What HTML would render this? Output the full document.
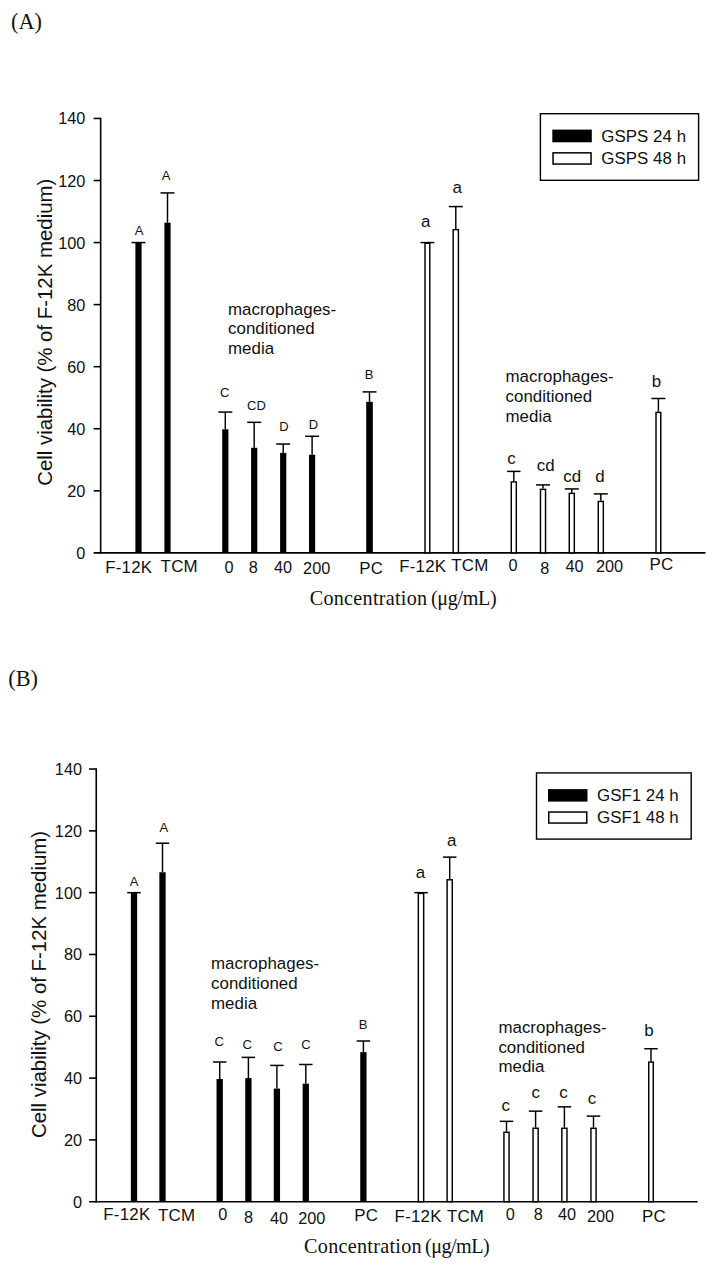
<!DOCTYPE html>
<html><head><meta charset="utf-8"><title>Figure</title>
<style>
html,body{margin:0;padding:0;background:#fff;}
svg{display:block;}
text{white-space:pre;}
</style></head>
<body>
<svg width="713" height="1265" viewBox="0 0 713 1265">
<rect x="0" y="0" width="713" height="1265" fill="#fff"/>
<g id="chartA">
<line x1="100.65" y1="117.65" x2="100.65" y2="553.65" stroke="#000" stroke-width="1.6"/>
<line x1="93.65" y1="552.85" x2="705.5" y2="552.85" stroke="#000" stroke-width="1.6"/>
<text x="85.3" y="558.85" font-size="16.3" letter-spacing="0" text-anchor="end" font-family='"Liberation Sans", sans-serif' fill="#111" >0</text>
<line x1="93.65" y1="490.79" x2="100.65" y2="490.79" stroke="#000" stroke-width="1.6"/>
<text x="85.3" y="496.79" font-size="16.3" letter-spacing="0" text-anchor="end" font-family='"Liberation Sans", sans-serif' fill="#111" >20</text>
<line x1="93.65" y1="428.74" x2="100.65" y2="428.74" stroke="#000" stroke-width="1.6"/>
<text x="85.3" y="434.74" font-size="16.3" letter-spacing="0" text-anchor="end" font-family='"Liberation Sans", sans-serif' fill="#111" >40</text>
<line x1="93.65" y1="366.68" x2="100.65" y2="366.68" stroke="#000" stroke-width="1.6"/>
<text x="85.3" y="372.68" font-size="16.3" letter-spacing="0" text-anchor="end" font-family='"Liberation Sans", sans-serif' fill="#111" >60</text>
<line x1="93.65" y1="304.62" x2="100.65" y2="304.62" stroke="#000" stroke-width="1.6"/>
<text x="85.3" y="310.62" font-size="16.3" letter-spacing="0" text-anchor="end" font-family='"Liberation Sans", sans-serif' fill="#111" >80</text>
<line x1="93.65" y1="242.56" x2="100.65" y2="242.56" stroke="#000" stroke-width="1.6"/>
<text x="85.3" y="248.56" font-size="16.3" letter-spacing="0" text-anchor="end" font-family='"Liberation Sans", sans-serif' fill="#111" >100</text>
<line x1="93.65" y1="180.51" x2="100.65" y2="180.51" stroke="#000" stroke-width="1.6"/>
<text x="85.3" y="186.51" font-size="16.3" letter-spacing="0" text-anchor="end" font-family='"Liberation Sans", sans-serif' fill="#111" >120</text>
<line x1="93.65" y1="118.45" x2="100.65" y2="118.45" stroke="#000" stroke-width="1.6"/>
<text x="85.3" y="124.45" font-size="16.3" letter-spacing="0" text-anchor="end" font-family='"Liberation Sans", sans-serif' fill="#111" >140</text>
<line x1="131.5" y1="242.56" x2="145.5" y2="242.56" stroke="#000" stroke-width="1.5"/>
<rect x="135.40" y="242.56" width="6.2" height="310.29" fill="#000"/>
<line x1="167.5" y1="192.92" x2="167.5" y2="222.71" stroke="#000" stroke-width="1.45"/>
<line x1="160.5" y1="192.92" x2="174.5" y2="192.92" stroke="#000" stroke-width="1.5"/>
<rect x="164.40" y="222.71" width="6.2" height="330.14" fill="#000"/>
<line x1="225.3" y1="412.07" x2="225.3" y2="429.29" stroke="#000" stroke-width="1.45"/>
<line x1="218.3" y1="412.07" x2="232.3" y2="412.07" stroke="#000" stroke-width="1.5"/>
<rect x="222.20" y="429.29" width="6.2" height="123.56" fill="#000"/>
<line x1="254.2" y1="422.31" x2="254.2" y2="447.76" stroke="#000" stroke-width="1.45"/>
<line x1="247.2" y1="422.31" x2="261.2" y2="422.31" stroke="#000" stroke-width="1.5"/>
<rect x="251.10" y="447.76" width="6.2" height="105.09" fill="#000"/>
<line x1="283.2" y1="444.03" x2="283.2" y2="452.88" stroke="#000" stroke-width="1.45"/>
<line x1="276.2" y1="444.03" x2="290.2" y2="444.03" stroke="#000" stroke-width="1.5"/>
<rect x="280.10" y="452.88" width="6.2" height="99.97" fill="#000"/>
<line x1="312.1" y1="436.28" x2="312.1" y2="454.74" stroke="#000" stroke-width="1.45"/>
<line x1="305.1" y1="436.28" x2="319.1" y2="436.28" stroke="#000" stroke-width="1.5"/>
<rect x="309.00" y="454.74" width="6.2" height="98.11" fill="#000"/>
<line x1="369.5" y1="391.90" x2="369.5" y2="401.83" stroke="#000" stroke-width="1.45"/>
<line x1="362.5" y1="391.90" x2="376.5" y2="391.90" stroke="#000" stroke-width="1.5"/>
<rect x="366.20" y="401.83" width="6.6" height="151.02" fill="#000"/>
<line x1="420.45" y1="242.56" x2="434.34999999999997" y2="242.56" stroke="#000" stroke-width="1.5"/>
<rect x="425.02" y="243.29" width="4.75" height="309.56" fill="#fff" stroke="#000" stroke-width="1.45"/>
<line x1="455.8" y1="206.57" x2="455.8" y2="228.91" stroke="#000" stroke-width="1.45"/>
<line x1="448.8" y1="206.57" x2="462.8" y2="206.57" stroke="#000" stroke-width="1.5"/>
<rect x="453.18" y="229.64" width="5.25" height="323.21" fill="#fff" stroke="#000" stroke-width="1.45"/>
<line x1="513.8" y1="471.40" x2="513.8" y2="481.17" stroke="#000" stroke-width="1.45"/>
<line x1="507.09999999999997" y1="471.40" x2="520.5" y2="471.40" stroke="#000" stroke-width="1.5"/>
<rect x="511.27" y="481.90" width="5.05" height="70.95" fill="#fff" stroke="#000" stroke-width="1.45"/>
<line x1="543.0" y1="484.90" x2="543.0" y2="488.62" stroke="#000" stroke-width="1.45"/>
<line x1="536.0" y1="484.90" x2="550.0" y2="484.90" stroke="#000" stroke-width="1.5"/>
<rect x="540.48" y="489.35" width="5.05" height="63.50" fill="#fff" stroke="#000" stroke-width="1.45"/>
<line x1="571.8" y1="488.93" x2="571.8" y2="492.65" stroke="#000" stroke-width="1.45"/>
<line x1="564.8" y1="488.93" x2="578.8" y2="488.93" stroke="#000" stroke-width="1.5"/>
<rect x="569.27" y="493.38" width="5.05" height="59.47" fill="#fff" stroke="#000" stroke-width="1.45"/>
<line x1="600.8" y1="493.90" x2="600.8" y2="500.72" stroke="#000" stroke-width="1.45"/>
<line x1="593.8" y1="493.90" x2="607.8" y2="493.90" stroke="#000" stroke-width="1.5"/>
<rect x="598.27" y="501.45" width="5.05" height="51.40" fill="#fff" stroke="#000" stroke-width="1.45"/>
<line x1="658.4" y1="398.48" x2="658.4" y2="411.67" stroke="#000" stroke-width="1.45"/>
<line x1="651.4" y1="398.48" x2="665.4" y2="398.48" stroke="#000" stroke-width="1.5"/>
<rect x="656.02" y="412.40" width="4.75" height="140.46" fill="#fff" stroke="#000" stroke-width="1.45"/>
<text x="105.2" y="572.8" font-size="16.9" letter-spacing="0.22" text-anchor="start" font-family='"Liberation Sans", sans-serif' fill="#111" >F-12K</text>
<text x="160.6" y="571.9" font-size="16.9" letter-spacing="0.22" text-anchor="start" font-family='"Liberation Sans", sans-serif' fill="#111" >TCM</text>
<text x="229" y="573.1" font-size="16.3" letter-spacing="0" text-anchor="middle" font-family='"Liberation Sans", sans-serif' fill="#111" >0</text>
<text x="253.4" y="573.1" font-size="16.3" letter-spacing="0" text-anchor="middle" font-family='"Liberation Sans", sans-serif' fill="#111" >8</text>
<text x="283" y="573.3" font-size="16.3" letter-spacing="0" text-anchor="middle" font-family='"Liberation Sans", sans-serif' fill="#111" >40</text>
<text x="316.7" y="574.3" font-size="16.3" letter-spacing="0" text-anchor="middle" font-family='"Liberation Sans", sans-serif' fill="#111" >200</text>
<text x="371.3" y="574.2" font-size="16.9" letter-spacing="0.22" text-anchor="middle" font-family='"Liberation Sans", sans-serif' fill="#111" >PC</text>
<text x="399.2" y="572.4" font-size="16.9" letter-spacing="0.22" text-anchor="start" font-family='"Liberation Sans", sans-serif' fill="#111" >F-12K</text>
<text x="451.2" y="570.7" font-size="16.9" letter-spacing="0.22" text-anchor="start" font-family='"Liberation Sans", sans-serif' fill="#111" >TCM</text>
<text x="513" y="570.5" font-size="16.3" letter-spacing="0" text-anchor="middle" font-family='"Liberation Sans", sans-serif' fill="#111" >0</text>
<text x="544.7" y="573.9" font-size="16.3" letter-spacing="0" text-anchor="middle" font-family='"Liberation Sans", sans-serif' fill="#111" >8</text>
<text x="574.6" y="572.2" font-size="16.3" letter-spacing="0" text-anchor="middle" font-family='"Liberation Sans", sans-serif' fill="#111" >40</text>
<text x="609.5" y="572.2" font-size="16.3" letter-spacing="0" text-anchor="middle" font-family='"Liberation Sans", sans-serif' fill="#111" >200</text>
<text x="661.5" y="570.4" font-size="16.9" letter-spacing="0.22" text-anchor="middle" font-family='"Liberation Sans", sans-serif' fill="#111" >PC</text>
<text x="139.1" y="235.2" font-size="13.0" letter-spacing="0" text-anchor="middle" font-family='"Liberation Sans", sans-serif' fill="#111" >A</text>
<text x="166.1" y="179.7" font-size="13.0" letter-spacing="0" text-anchor="middle" font-family='"Liberation Sans", sans-serif' fill="#111" >A</text>
<text x="224.7" y="396.5" font-size="13.0" letter-spacing="0" text-anchor="middle" font-family='"Liberation Sans", sans-serif' fill="#111" >C</text>
<text x="256.5" y="409.7" font-size="13.0" letter-spacing="0" text-anchor="middle" font-family='"Liberation Sans", sans-serif' fill="#111" >CD</text>
<text x="284" y="430.5" font-size="13.0" letter-spacing="0" text-anchor="middle" font-family='"Liberation Sans", sans-serif' fill="#111" >D</text>
<text x="313.5" y="428.5" font-size="13.0" letter-spacing="0" text-anchor="middle" font-family='"Liberation Sans", sans-serif' fill="#111" >D</text>
<text x="369.1" y="379.3" font-size="13.0" letter-spacing="0" text-anchor="middle" font-family='"Liberation Sans", sans-serif' fill="#111" >B</text>
<text x="425.7" y="226.9" font-size="16.9" letter-spacing="0.22" text-anchor="middle" font-family='"Liberation Sans", sans-serif' fill="#111" >a</text>
<text x="457.2" y="193.4" font-size="16.9" letter-spacing="0.22" text-anchor="middle" font-family='"Liberation Sans", sans-serif' fill="#111" >a</text>
<text x="511.7" y="463.7" font-size="16.9" letter-spacing="0.22" text-anchor="middle" font-family='"Liberation Sans", sans-serif' fill="#111" >c</text>
<text x="545.8" y="470.9" font-size="16.9" letter-spacing="0.22" text-anchor="middle" font-family='"Liberation Sans", sans-serif' fill="#111" >cd</text>
<text x="572.3" y="482.4" font-size="16.9" letter-spacing="0.22" text-anchor="middle" font-family='"Liberation Sans", sans-serif' fill="#111" >cd</text>
<text x="600.1" y="482.4" font-size="16.9" letter-spacing="0.22" text-anchor="middle" font-family='"Liberation Sans", sans-serif' fill="#111" >d</text>
<text x="656.5" y="386.5" font-size="16.9" letter-spacing="0.22" text-anchor="middle" font-family='"Liberation Sans", sans-serif' fill="#111" >b</text>
<text x="228" y="314.7" font-size="16.9" letter-spacing="0.02" text-anchor="start" font-family='"Liberation Sans", sans-serif' fill="#111" >macrophages-</text>
<text x="228" y="334.3" font-size="16.9" letter-spacing="0.02" text-anchor="start" font-family='"Liberation Sans", sans-serif' fill="#111" >conditioned</text>
<text x="228" y="353.9" font-size="16.9" letter-spacing="0.02" text-anchor="start" font-family='"Liberation Sans", sans-serif' fill="#111" >media</text>
<text x="505.5" y="381.9" font-size="16.9" letter-spacing="0.02" text-anchor="start" font-family='"Liberation Sans", sans-serif' fill="#111" >macrophages-</text>
<text x="505.5" y="401.8" font-size="16.9" letter-spacing="0.02" text-anchor="start" font-family='"Liberation Sans", sans-serif' fill="#111" >conditioned</text>
<text x="505.5" y="421.6" font-size="16.9" letter-spacing="0.02" text-anchor="start" font-family='"Liberation Sans", sans-serif' fill="#111" >media</text>
<rect x="540.4" y="113.7" width="158.2" height="66.6" fill="#fff" stroke="#000" stroke-width="1.4"/>
<rect x="552.3" y="129.6" width="39.5" height="12.7" fill="#000"/>
<rect x="553.05" y="152.85" width="38.0" height="11.2" fill="#fff" stroke="#000" stroke-width="1.5"/>
<text x="601.2" y="141.8" font-size="16.9" letter-spacing="0.06" text-anchor="start" font-family='"Liberation Sans", sans-serif' fill="#111" >GSPS 24 h</text>
<text x="601.2" y="164.2" font-size="16.9" letter-spacing="0.06" text-anchor="start" font-family='"Liberation Sans", sans-serif' fill="#111" >GSPS 48 h</text>
<text transform="translate(51.8,485.8) rotate(-90)" font-size="20.4" font-family='"Liberation Sans", sans-serif' fill="#111" text-anchor="start">Cell viability (% of F-12K medium)</text>
<text x="309.7" y="604.7" font-size="20.15" letter-spacing="0.28" text-anchor="start" font-family='"Liberation Serif", serif' fill="#111" >Concentration</text>
<text x="430.9" y="604.7" font-size="20.15" letter-spacing="-0.35" text-anchor="start" font-family='"Liberation Serif", serif' fill="#111" >(&#956;g/mL)</text>
<text x="11.0" y="29.3" font-size="22.3" letter-spacing="0" text-anchor="start" font-family='"Liberation Serif", serif' fill="#111" >(A)</text>
</g>
<g id="chartB">
<line x1="96.25" y1="768.25" x2="96.25" y2="1202.5" stroke="#000" stroke-width="1.6"/>
<line x1="89.05" y1="1201.7" x2="697.7" y2="1201.7" stroke="#000" stroke-width="1.6"/>
<text x="82" y="1207.70" font-size="16.3" letter-spacing="0" text-anchor="end" font-family='"Liberation Sans", sans-serif' fill="#111" >0</text>
<line x1="89.05" y1="1139.89" x2="96.25" y2="1139.89" stroke="#000" stroke-width="1.6"/>
<text x="82" y="1145.89" font-size="16.3" letter-spacing="0" text-anchor="end" font-family='"Liberation Sans", sans-serif' fill="#111" >20</text>
<line x1="89.05" y1="1078.09" x2="96.25" y2="1078.09" stroke="#000" stroke-width="1.6"/>
<text x="82" y="1084.09" font-size="16.3" letter-spacing="0" text-anchor="end" font-family='"Liberation Sans", sans-serif' fill="#111" >40</text>
<line x1="89.05" y1="1016.28" x2="96.25" y2="1016.28" stroke="#000" stroke-width="1.6"/>
<text x="82" y="1022.28" font-size="16.3" letter-spacing="0" text-anchor="end" font-family='"Liberation Sans", sans-serif' fill="#111" >60</text>
<line x1="89.05" y1="954.47" x2="96.25" y2="954.47" stroke="#000" stroke-width="1.6"/>
<text x="82" y="960.47" font-size="16.3" letter-spacing="0" text-anchor="end" font-family='"Liberation Sans", sans-serif' fill="#111" >80</text>
<line x1="89.05" y1="892.66" x2="96.25" y2="892.66" stroke="#000" stroke-width="1.6"/>
<text x="82" y="898.66" font-size="16.3" letter-spacing="0" text-anchor="end" font-family='"Liberation Sans", sans-serif' fill="#111" >100</text>
<line x1="89.05" y1="830.86" x2="96.25" y2="830.86" stroke="#000" stroke-width="1.6"/>
<text x="82" y="836.86" font-size="16.3" letter-spacing="0" text-anchor="end" font-family='"Liberation Sans", sans-serif' fill="#111" >120</text>
<line x1="89.05" y1="769.05" x2="96.25" y2="769.05" stroke="#000" stroke-width="1.6"/>
<text x="82" y="775.05" font-size="16.3" letter-spacing="0" text-anchor="end" font-family='"Liberation Sans", sans-serif' fill="#111" >140</text>
<line x1="127.25" y1="892.66" x2="140.75" y2="892.66" stroke="#000" stroke-width="1.5"/>
<rect x="130.85" y="892.66" width="6.3" height="309.04" fill="#000"/>
<line x1="162.5" y1="843.22" x2="162.5" y2="872.27" stroke="#000" stroke-width="1.45"/>
<line x1="155.75" y1="843.22" x2="169.25" y2="843.22" stroke="#000" stroke-width="1.5"/>
<rect x="159.35" y="872.27" width="6.3" height="329.43" fill="#000"/>
<line x1="219.7" y1="1062.02" x2="219.7" y2="1079.01" stroke="#000" stroke-width="1.45"/>
<line x1="212.95" y1="1062.02" x2="226.45" y2="1062.02" stroke="#000" stroke-width="1.5"/>
<rect x="216.55" y="1079.01" width="6.3" height="122.69" fill="#000"/>
<line x1="248.4" y1="1057.38" x2="248.4" y2="1078.09" stroke="#000" stroke-width="1.45"/>
<line x1="241.65" y1="1057.38" x2="255.15" y2="1057.38" stroke="#000" stroke-width="1.5"/>
<rect x="245.25" y="1078.09" width="6.3" height="123.61" fill="#000"/>
<line x1="276.9" y1="1065.42" x2="276.9" y2="1088.59" stroke="#000" stroke-width="1.45"/>
<line x1="270.15" y1="1065.42" x2="283.65" y2="1065.42" stroke="#000" stroke-width="1.5"/>
<rect x="273.75" y="1088.59" width="6.3" height="113.11" fill="#000"/>
<line x1="305.8" y1="1064.49" x2="305.8" y2="1083.65" stroke="#000" stroke-width="1.45"/>
<line x1="299.05" y1="1064.49" x2="312.55" y2="1064.49" stroke="#000" stroke-width="1.5"/>
<rect x="302.65" y="1083.65" width="6.3" height="118.05" fill="#000"/>
<line x1="363.4" y1="1041.00" x2="363.4" y2="1052.13" stroke="#000" stroke-width="1.45"/>
<line x1="356.65" y1="1041.00" x2="370.15" y2="1041.00" stroke="#000" stroke-width="1.5"/>
<rect x="360.25" y="1052.13" width="6.3" height="149.57" fill="#000"/>
<line x1="414.2" y1="892.66" x2="427.8" y2="892.66" stroke="#000" stroke-width="1.5"/>
<rect x="418.33" y="893.39" width="5.35" height="308.31" fill="#fff" stroke="#000" stroke-width="1.45"/>
<line x1="449.7" y1="857.13" x2="449.7" y2="879.07" stroke="#000" stroke-width="1.45"/>
<line x1="442.95" y1="857.13" x2="456.45" y2="857.13" stroke="#000" stroke-width="1.5"/>
<rect x="447.12" y="879.79" width="5.1499999999999995" height="321.91" fill="#fff" stroke="#000" stroke-width="1.45"/>
<line x1="506.5" y1="1121.35" x2="506.5" y2="1131.55" stroke="#000" stroke-width="1.45"/>
<line x1="499.75" y1="1121.35" x2="513.25" y2="1121.35" stroke="#000" stroke-width="1.5"/>
<rect x="503.93" y="1132.27" width="5.1499999999999995" height="69.43" fill="#fff" stroke="#000" stroke-width="1.45"/>
<line x1="535.6" y1="1111.15" x2="535.6" y2="1127.53" stroke="#000" stroke-width="1.45"/>
<line x1="528.85" y1="1111.15" x2="542.35" y2="1111.15" stroke="#000" stroke-width="1.5"/>
<rect x="533.03" y="1128.26" width="5.1499999999999995" height="73.44" fill="#fff" stroke="#000" stroke-width="1.45"/>
<line x1="564.4" y1="1106.83" x2="564.4" y2="1127.53" stroke="#000" stroke-width="1.45"/>
<line x1="557.65" y1="1106.83" x2="571.15" y2="1106.83" stroke="#000" stroke-width="1.5"/>
<rect x="561.83" y="1128.26" width="5.1499999999999995" height="73.44" fill="#fff" stroke="#000" stroke-width="1.45"/>
<line x1="593.5" y1="1116.10" x2="593.5" y2="1127.53" stroke="#000" stroke-width="1.45"/>
<line x1="586.75" y1="1116.10" x2="600.25" y2="1116.10" stroke="#000" stroke-width="1.5"/>
<rect x="590.93" y="1128.26" width="5.1499999999999995" height="73.44" fill="#fff" stroke="#000" stroke-width="1.45"/>
<line x1="651.0" y1="1048.73" x2="651.0" y2="1061.40" stroke="#000" stroke-width="1.45"/>
<line x1="644.25" y1="1048.73" x2="657.75" y2="1048.73" stroke="#000" stroke-width="1.5"/>
<rect x="648.73" y="1062.12" width="4.55" height="139.58" fill="#fff" stroke="#000" stroke-width="1.45"/>
<text x="103.3" y="1220" font-size="16.9" letter-spacing="0.22" text-anchor="start" font-family='"Liberation Sans", sans-serif' fill="#111" >F-12K</text>
<text x="158" y="1221" font-size="16.9" letter-spacing="0.22" text-anchor="start" font-family='"Liberation Sans", sans-serif' fill="#111" >TCM</text>
<text x="222.8" y="1220.1" font-size="16.3" letter-spacing="0" text-anchor="middle" font-family='"Liberation Sans", sans-serif' fill="#111" >0</text>
<text x="248.5" y="1223.1" font-size="16.3" letter-spacing="0" text-anchor="middle" font-family='"Liberation Sans", sans-serif' fill="#111" >8</text>
<text x="279.1" y="1223.9" font-size="16.3" letter-spacing="0" text-anchor="middle" font-family='"Liberation Sans", sans-serif' fill="#111" >40</text>
<text x="311.8" y="1223.9" font-size="16.3" letter-spacing="0" text-anchor="middle" font-family='"Liberation Sans", sans-serif' fill="#111" >200</text>
<text x="366.3" y="1221.0" font-size="16.9" letter-spacing="0.22" text-anchor="middle" font-family='"Liberation Sans", sans-serif' fill="#111" >PC</text>
<text x="394.6" y="1221.9" font-size="16.9" letter-spacing="0.22" text-anchor="start" font-family='"Liberation Sans", sans-serif' fill="#111" >F-12K</text>
<text x="446.9" y="1221.9" font-size="16.9" letter-spacing="0.22" text-anchor="start" font-family='"Liberation Sans", sans-serif' fill="#111" >TCM</text>
<text x="510.2" y="1219.8" font-size="16.3" letter-spacing="0" text-anchor="middle" font-family='"Liberation Sans", sans-serif' fill="#111" >0</text>
<text x="538.2" y="1219.8" font-size="16.3" letter-spacing="0" text-anchor="middle" font-family='"Liberation Sans", sans-serif' fill="#111" >8</text>
<text x="567" y="1219.8" font-size="16.3" letter-spacing="0" text-anchor="middle" font-family='"Liberation Sans", sans-serif' fill="#111" >40</text>
<text x="600.5" y="1221.5" font-size="16.3" letter-spacing="0" text-anchor="middle" font-family='"Liberation Sans", sans-serif' fill="#111" >200</text>
<text x="654" y="1221.5" font-size="16.9" letter-spacing="0.22" text-anchor="middle" font-family='"Liberation Sans", sans-serif' fill="#111" >PC</text>
<text x="134.2" y="885.8" font-size="13.0" letter-spacing="0" text-anchor="middle" font-family='"Liberation Sans", sans-serif' fill="#111" >A</text>
<text x="163.8" y="831.9" font-size="13.0" letter-spacing="0" text-anchor="middle" font-family='"Liberation Sans", sans-serif' fill="#111" >A</text>
<text x="219.3" y="1045.9" font-size="13.0" letter-spacing="0" text-anchor="middle" font-family='"Liberation Sans", sans-serif' fill="#111" >C</text>
<text x="247.1" y="1048.8" font-size="13.0" letter-spacing="0" text-anchor="middle" font-family='"Liberation Sans", sans-serif' fill="#111" >C</text>
<text x="277.9" y="1050.6" font-size="13.0" letter-spacing="0" text-anchor="middle" font-family='"Liberation Sans", sans-serif' fill="#111" >C</text>
<text x="306.0" y="1049.2" font-size="13.0" letter-spacing="0" text-anchor="middle" font-family='"Liberation Sans", sans-serif' fill="#111" >C</text>
<text x="363.2" y="1028.7" font-size="13.0" letter-spacing="0" text-anchor="middle" font-family='"Liberation Sans", sans-serif' fill="#111" >B</text>
<text x="420.5" y="878.0" font-size="16.9" letter-spacing="0.22" text-anchor="middle" font-family='"Liberation Sans", sans-serif' fill="#111" >a</text>
<text x="451.9" y="846.1" font-size="16.9" letter-spacing="0.22" text-anchor="middle" font-family='"Liberation Sans", sans-serif' fill="#111" >a</text>
<text x="505.8" y="1110.8" font-size="16.9" letter-spacing="0.22" text-anchor="middle" font-family='"Liberation Sans", sans-serif' fill="#111" >c</text>
<text x="535.8" y="1097.8" font-size="16.9" letter-spacing="0.22" text-anchor="middle" font-family='"Liberation Sans", sans-serif' fill="#111" >c</text>
<text x="563.7" y="1097.8" font-size="16.9" letter-spacing="0.22" text-anchor="middle" font-family='"Liberation Sans", sans-serif' fill="#111" >c</text>
<text x="592" y="1104" font-size="16.9" letter-spacing="0.22" text-anchor="middle" font-family='"Liberation Sans", sans-serif' fill="#111" >c</text>
<text x="649" y="1035.8" font-size="16.9" letter-spacing="0.22" text-anchor="middle" font-family='"Liberation Sans", sans-serif' fill="#111" >b</text>
<text x="211" y="969.1" font-size="16.9" letter-spacing="0.02" text-anchor="start" font-family='"Liberation Sans", sans-serif' fill="#111" >macrophages-</text>
<text x="211" y="989.3" font-size="16.9" letter-spacing="0.02" text-anchor="start" font-family='"Liberation Sans", sans-serif' fill="#111" >conditioned</text>
<text x="211" y="1008.6" font-size="16.9" letter-spacing="0.02" text-anchor="start" font-family='"Liberation Sans", sans-serif' fill="#111" >media</text>
<text x="498.4" y="1032.8" font-size="16.9" letter-spacing="0.02" text-anchor="start" font-family='"Liberation Sans", sans-serif' fill="#111" >macrophages-</text>
<text x="498.4" y="1052.5" font-size="16.9" letter-spacing="0.02" text-anchor="start" font-family='"Liberation Sans", sans-serif' fill="#111" >conditioned</text>
<text x="498.4" y="1071.5" font-size="16.9" letter-spacing="0.02" text-anchor="start" font-family='"Liberation Sans", sans-serif' fill="#111" >media</text>
<rect x="536.5" y="772.9" width="154.7" height="66.2" fill="#fff" stroke="#000" stroke-width="1.4"/>
<rect x="548" y="789.1" width="39.5" height="12.5" fill="#000"/>
<rect x="548.75" y="812.05" width="38.0" height="11.0" fill="#fff" stroke="#000" stroke-width="1.5"/>
<text x="597" y="801.4" font-size="16.9" letter-spacing="0.0" text-anchor="start" font-family='"Liberation Sans", sans-serif' fill="#111" >GSF1 24 h</text>
<text x="597" y="823.3" font-size="16.9" letter-spacing="0.0" text-anchor="start" font-family='"Liberation Sans", sans-serif' fill="#111" >GSF1 48 h</text>
<text transform="translate(46.3,1138) rotate(-90)" font-size="20.4" font-family='"Liberation Sans", sans-serif' fill="#111" text-anchor="start">Cell viability (% of F-12K medium)</text>
<text x="304.1" y="1253.2" font-size="20.15" letter-spacing="0.28" text-anchor="start" font-family='"Liberation Serif", serif' fill="#111" >Concentration</text>
<text x="425.1" y="1253.2" font-size="20.15" letter-spacing="-0.55" text-anchor="start" font-family='"Liberation Serif", serif' fill="#111" >(&#956;g/mL)</text>
<text x="8.3" y="685.8" font-size="22.3" letter-spacing="0" text-anchor="start" font-family='"Liberation Serif", serif' fill="#111" >(B)</text>
</g>
</svg>
</body></html>
